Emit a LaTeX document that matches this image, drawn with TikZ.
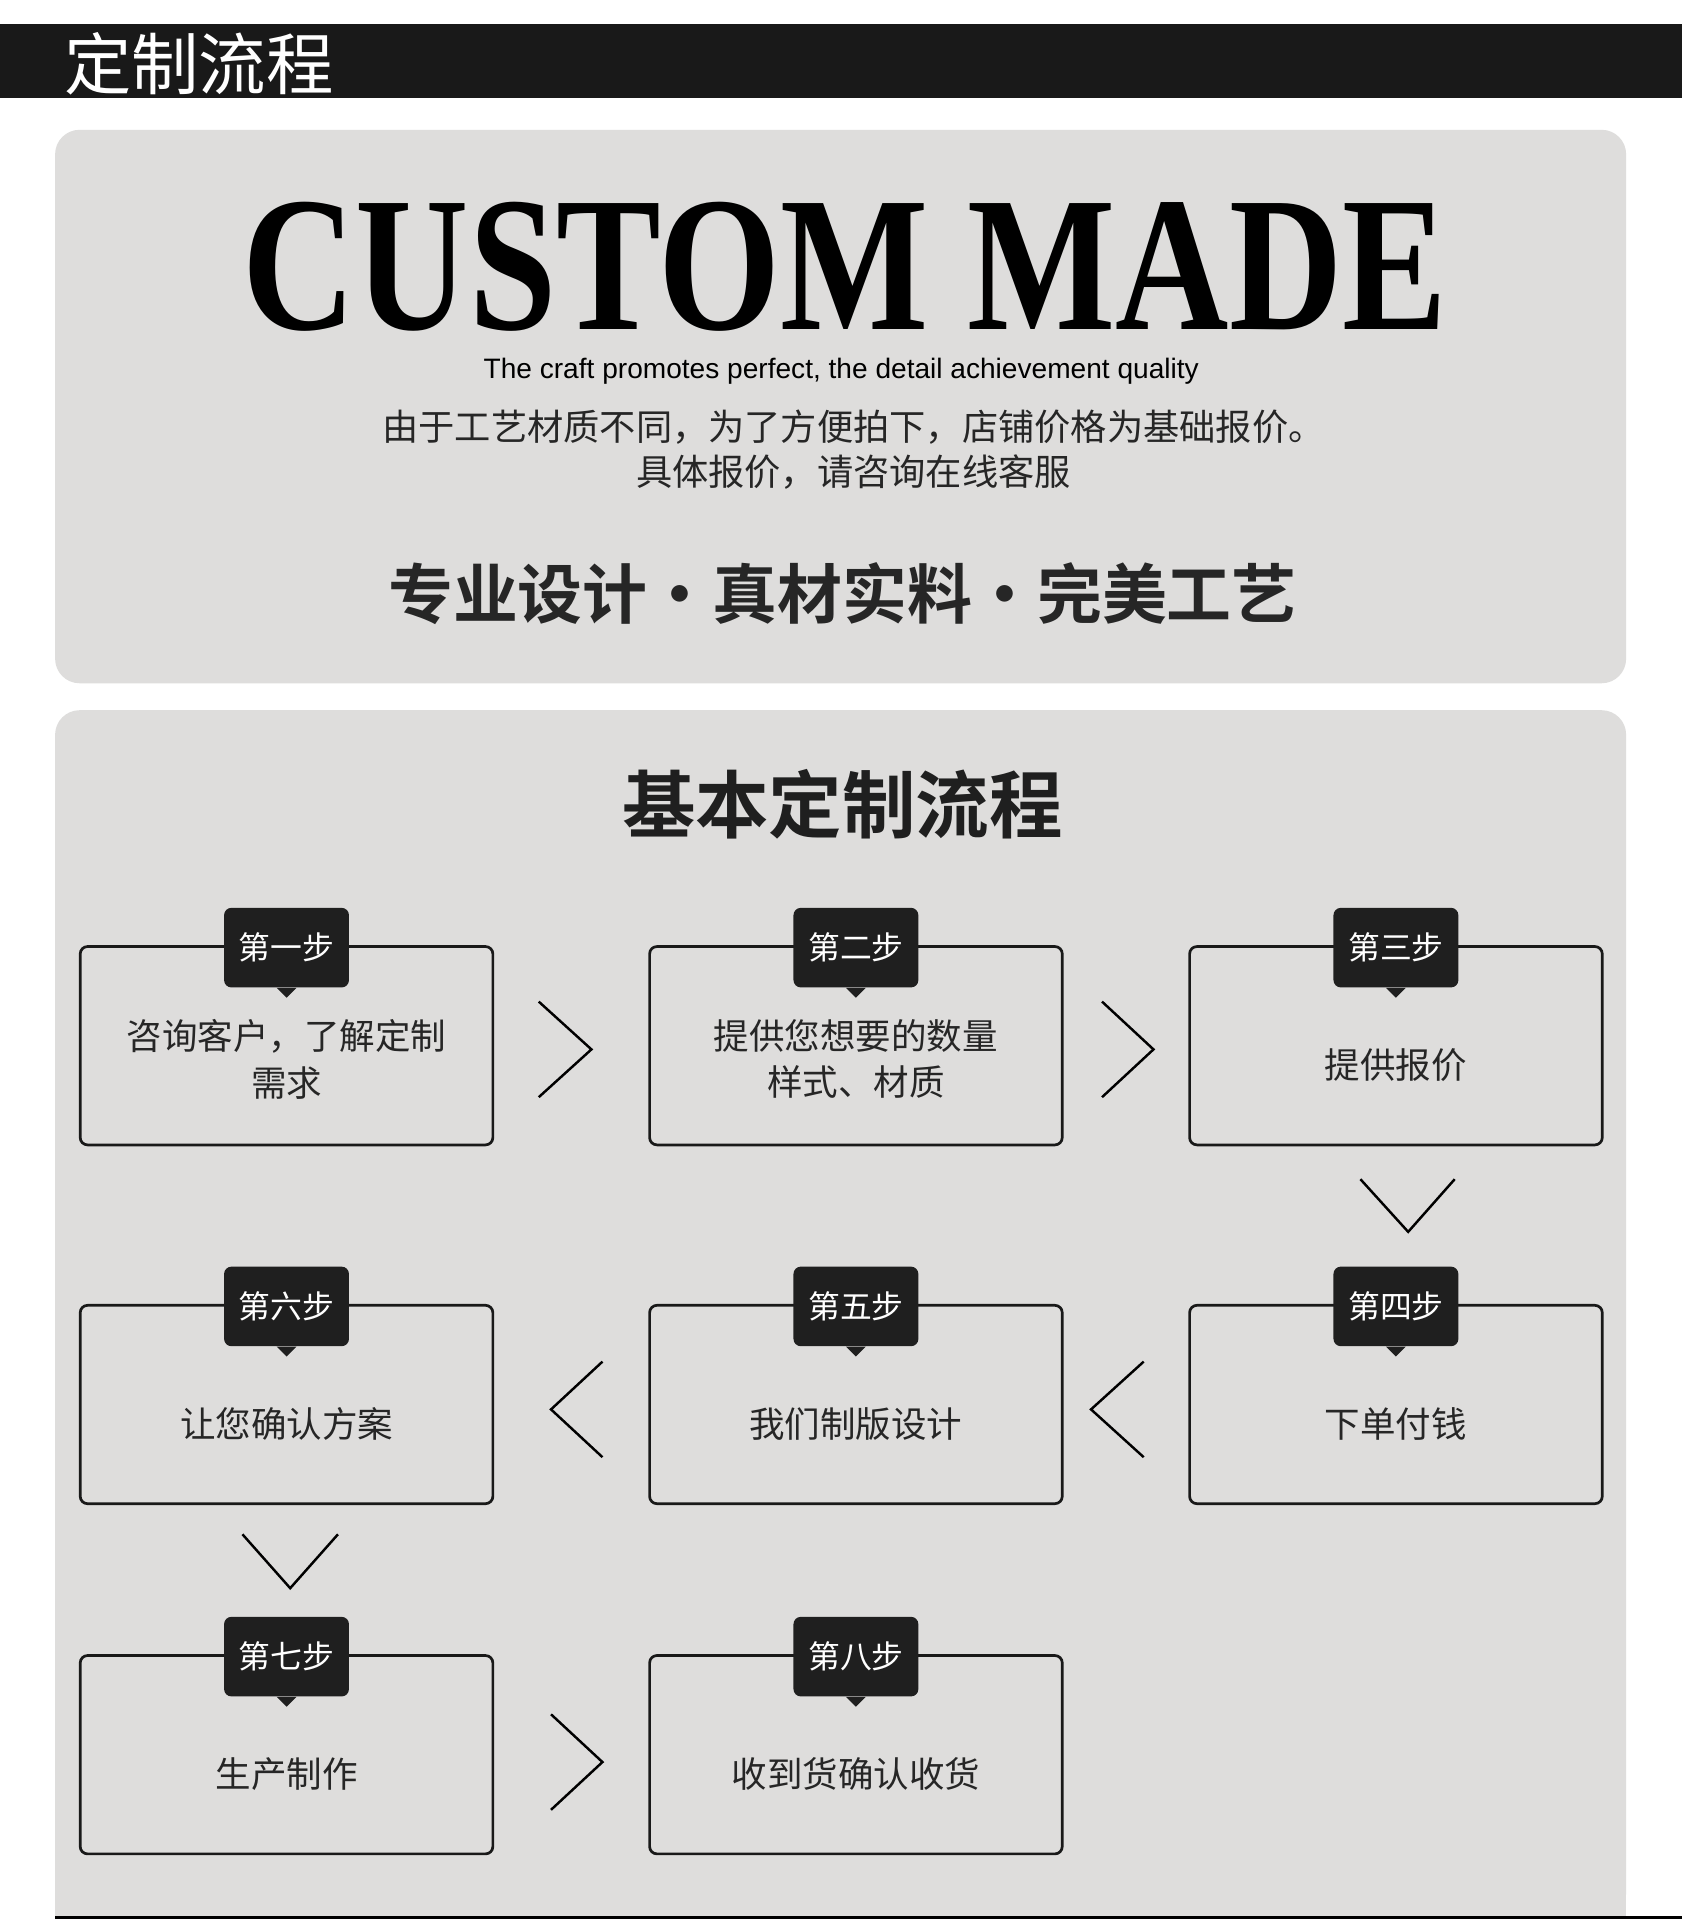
\documentclass[tikz,border=0pt]{standalone}
\usepackage{fontspec}
\setmainfont{Liberation Serif}
\newfontfamily\cjk{Noto Sans CJK SC}
\newfontfamily\cjkb{Noto Sans CJK SC Bold}
\newfontfamily\lsans{Liberation Sans}
\begin{document}
\begin{tikzpicture}[x=0.5pt,y=-0.5pt,
  stepbox/.style={draw=black!90,line width=1.1pt,rounded corners=3pt,minimum width=168.5pt,minimum height=81pt,inner sep=0pt},
  steptext/.style={inner sep=0pt,align=center,font=\cjk\fontsize{14.5}{19}\selectfont,text=black!85},
  tab/.style={fill=black!88,rounded corners=3pt,minimum width=51pt,minimum height=32.5pt,inner sep=0pt,text=white,font=\cjk\fontsize{13}{14}\selectfont},
  chev/.style={line width=1pt,draw=black}]
\definecolor{panelgray}{HTML}{DEDDDC}
\useasboundingbox (0,0) rectangle (1374,1568);
\fill[white] (0,0) rectangle (1374,1568);
\fill[black!90] (0,20) rectangle (1374,80);
\node[anchor=west,text=white,font=\cjk\fontsize{27.5}{28}\selectfont,inner sep=0] (t) at (52,52) {定制流程};
\fill[panelgray,rounded corners=10pt] (45,106) rectangle (1328,558);
\node[inner sep=0,anchor=north] (cm) at (690,165) {\resizebox{492pt}{52pt}{\bfseries\fontsize{80}{80}\selectfont CUSTOM MADE}};
\node[inner sep=0] (sub) at (687,303) {\resizebox{292pt}{!}{\lsans\fontsize{10}{12}\selectfont The craft promotes perfect, the detail achievement quality}};
\node[inner sep=0,align=center,font=\cjk\fontsize{14.8}{18.5}\selectfont,text=black!85] (zh) at (697,367) {由于工艺材质不同，为了方便拍下，店铺价格为基础报价。\\具体报价，请咨询在线客服};
\node[inner sep=0,font=\cjkb\fontsize{26.5}{28}\selectfont,text=black!85] (sl) at (688,485) {专业设计·真材实料·完美工艺};
\fill[panelgray,rounded corners=10pt] (45,580) -- (45,1566) -- (1328,1566) -- (1328,580) -- cycle;
\fill[panelgray] (45,1540) rectangle (1328,1566);
\draw[line width=1.5pt] (45,1566) -- (1374,1566);
\node[inner sep=0,font=\cjkb\fontsize{30}{30}\selectfont,text=black!88] (bt) at (688,657) {基本定制流程};
% boxes
\node[stepbox] (b1) at (234,854) {};
\node[stepbox] (b2) at (699,854) {};
\node[stepbox] (b3) at (1140,854) {};
\node[stepbox] (b4) at (1140,1147) {};
\node[stepbox] (b5) at (699,1147) {};
\node[stepbox] (b6) at (234,1147) {};
\node[stepbox] (b7) at (234,1433) {};
\node[stepbox] (b8) at (699,1433) {};
\node[steptext] (l1) at ([yshift=-5.5pt]b1.center) {咨询客户，了解定制\\需求};
\node[steptext] (l2) at ([yshift=-5.5pt]b2.center) {提供您想要的数量\\样式、材质};
\node[steptext] (l3) at ([yshift=-8pt]b3.center) {提供报价};
\node[steptext] (l4) at ([yshift=-8pt]b4.center) {下单付钱};
\node[steptext] (l5) at ([yshift=-8pt]b5.center) {我们制版设计};
\node[steptext] (l6) at ([yshift=-8pt]b6.center) {让您确认方案};
\node[steptext] (l7) at ([yshift=-8pt]b7.center) {生产制作};
\node[steptext] (l8) at ([yshift=-8pt]b8.center) {收到货确认收货};
\foreach \b/\s in {b1/第一步,b2/第二步,b3/第三步,b4/第四步,b5/第五步,b6/第六步,b7/第七步,b8/第八步}{
  \node[tab] (\b t) at ([yshift=-1pt]\b.north) {\s};
  \fill[black!88] ([xshift=-4pt]\b t.south) -- ([xshift=4pt]\b t.south) -- ([yshift=-4pt]\b t.south) -- cycle;
}
% chevrons
\draw[chev] (440,818) -- (483,857) -- (440,896);
\draw[chev] (900,818) -- (942,857) -- (900,896);
\draw[chev] (1111,963) -- (1150,1006) -- (1188,963);
\draw[chev] (934,1112) -- (891,1151) -- (934,1190);
\draw[chev] (492,1112) -- (450,1151) -- (492,1190);
\draw[chev] (198,1253) -- (237,1297) -- (276,1253);
\draw[chev] (450,1400) -- (492,1439) -- (450,1478);
\end{tikzpicture}
\end{document}
